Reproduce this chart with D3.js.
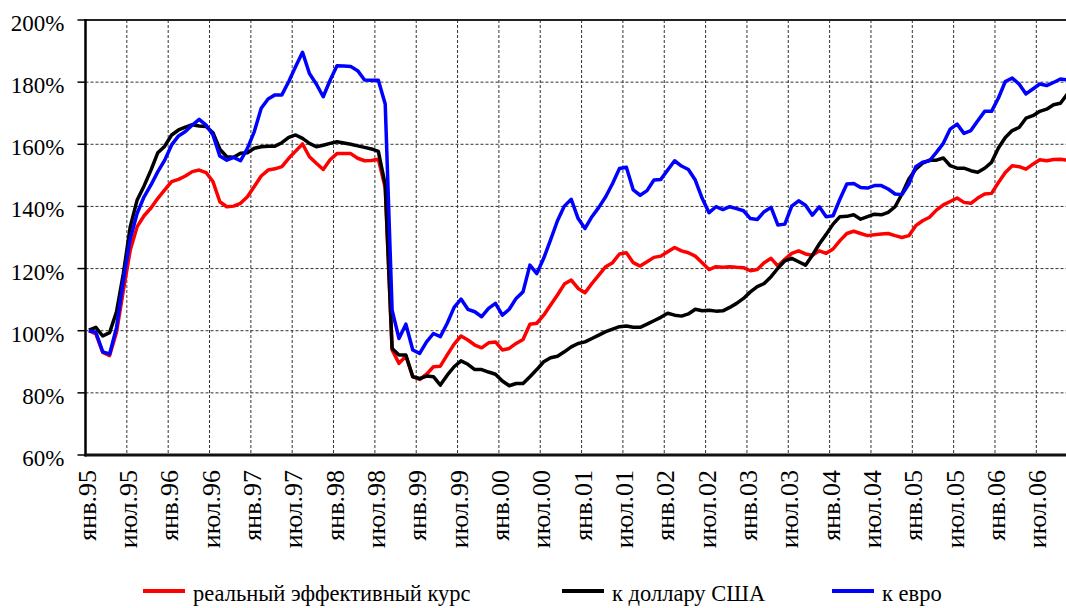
<html><head><meta charset="utf-8"></head><body style="margin:0">
<script src="https://d3js.org/d3.v7.min.js"></script>
<script>
    // tick labels, one every 6 months starting Jan 1995
    var tickLabels = ["янв.95", "июл.95", "янв.96", "июл.96", "янв.97", "июл.97",
        "янв.98", "июл.98", "янв.99", "июл.99", "янв.00", "июл.00",
        "янв.01", "июл.01", "янв.02", "июл.02", "янв.03", "июл.03",
        "янв.04", "июл.04", "янв.05", "июл.05", "янв.06", "июл.06"];

    var yTicks = [60, 80, 100, 120, 140, 160, 180, 200];

    // monthly values, % of Jan 1995
    var realRate = [
        100, 99, 93, 92, 99.5, 113, 126, 133.5, 137, 139.5, 142.6, 145.3,
        148, 148.7, 149.8, 151.2, 151.7, 150.9, 148, 141.5, 139.9, 140.1, 141, 143.1,
        146.4, 149.8, 151.7, 152.1, 152.8, 155.5, 157.8, 160.1, 156, 153.9, 151.9, 155,
        157, 157, 157, 155.5, 154.7, 154.8, 155.2, 146, 93.8, 89.5, 91.8, 85.2,
        84.3, 86, 88.4, 88.6, 92.2, 95.7, 98.3, 97, 95.4, 94.5, 96.1, 96.4,
        93.8, 94.3, 95.9, 97.2, 102.1, 102.4, 105, 108.3, 111.5, 115, 116.3, 113.6,
        112.2, 115.2, 117.9, 120.6, 121.9, 124.7, 125.1, 121.9, 120.8, 122.2, 123.6, 124,
        125.4, 126.8, 125.7, 125.1, 124, 121.9, 119.7, 120.6, 120.4, 120.6, 120.4, 120.3,
        119.3, 119.7, 121.9, 123.3, 120.8, 123, 124.9, 125.7, 124.7, 124.3, 125.7, 124.9,
        126.3, 129, 131.3, 132, 131.3, 130.6, 130.9, 131.1, 131.3, 130.6, 130, 130.6,
        133.8, 135.4, 136.5, 138.8, 140.5, 141.6, 142.7, 141.3, 141, 142.7, 144, 144.2,
        147.7, 150.9, 153.1, 152.8, 152, 153.6, 155, 154.7, 155.1, 155.2, 154.9
    ];

    var usdRate = [
        100.2, 101.1, 98.3, 99.4, 106.1, 118.5, 133.5, 142.1, 146.6, 151.7, 157.3, 159.4,
        163, 164.6, 165.5, 166.3, 165.9, 165.7, 163.7, 158.4, 156, 155.8, 157.1, 157.3,
        158.7, 159.2, 159.4, 159.4, 160.5, 162.2, 163, 161.9, 160.3, 159.2, 159.7, 160.3,
        160.8, 160.4, 160, 159.5, 159, 158.5, 157.7, 147, 94.3, 92.2, 92.2, 85.2,
        84.6, 85.4, 85.2, 82.5, 85.7, 88.4, 90.3, 89.2, 87.5, 87.5, 86.7, 86,
        83.8, 82.3, 83, 83, 85.2, 87.5, 90, 91.3, 91.8, 93.2, 94.8, 95.9,
        96.4, 97.5, 98.6, 99.7, 100.5, 101.3, 101.5, 101.1, 101.1, 102.1, 103.2, 104.3,
        105.6, 105, 104.7, 105.4, 106.9, 106.4, 106.6, 106.3, 106.4, 107.5, 108.8, 110.4,
        112.5, 114.2, 115.2, 117.4, 120.1, 122.5, 123.3, 122.2, 121.1, 124.3, 127.9, 131,
        134.3, 136.7, 136.8, 137.3, 135.9, 136.7, 137.5, 137.3, 138.1, 139.9, 144, 148.8,
        152, 153.9, 154.9, 154.9, 155.6, 153.1, 152.3, 152.3, 151.5, 151, 152.3, 154.2,
        158.8, 162.2, 164.4, 165.4, 168.4, 169.2, 170.6, 171.3, 172.7, 173.2, 176.2
    ];

    var eurRate = [
        100, 99.5, 93.2, 92.5, 101, 116.3, 129.7, 137.8, 143.1, 146.9, 151.2, 154.9,
        159.8, 162.7, 164.1, 166.2, 168, 166.2, 163, 156.2, 154.9, 155.8, 154.7, 158.7,
        164.1, 171.6, 174.6, 175.9, 175.9, 180.2, 185, 189.6, 182.8, 179.4, 175.3, 180.6,
        185.3, 185.2, 185, 183.7, 180.7, 180.6, 180.6, 173, 106.6, 97.5, 102.1, 93.8,
        92.7, 96.4, 99.1, 98.1, 102.4, 107.5, 110.2, 106.9, 106.1, 104.5, 107.2, 108.8,
        105, 106.9, 110.4, 112.5, 121.1, 118.4, 123.3, 129.2, 135.4, 140.1, 142.3, 136.1,
        132.9, 136.7, 139.7, 143.1, 147.4, 152.2, 152.6, 145.3, 143.6, 145.1, 148.5, 148.7,
        151.7, 154.7, 153, 151.9, 148.5, 142.6, 138, 139.9, 139, 139.9, 139.3, 138.6,
        136.1, 135.8, 138.3, 139.7, 134, 134.3, 140.1, 141.8, 140.4, 137.2, 139.9, 136.7,
        137, 142.4, 147.2, 147.4, 146.1, 145.9, 146.7, 146.7, 145.6, 144, 143.8, 147.2,
        152.8, 154.2, 154.7, 157.4, 160.3, 164.9, 166.5, 163.5, 164.4, 167.6, 170.6, 170.6,
        174.9, 180.2, 181.3, 179.4, 176.2, 177.8, 179.4, 178.9, 179.9, 181, 180.7
    ];

    var seriesNames = ["реальный эффективный курс", "к доллару США", "к евро"];
    var seriesColors = ["#ff0000", "#000000", "#0000ff"];

    // drawing vars
    var width = 1066;
    var height = 608;
    var plotLeft = 85.5;
    var plotTop = 20;
    var plotBottom = 455;
    var monthStep = 6.89;
    var numMonths = 144;

    var svg = d3.select("body").append("svg").attr("width", width).attr("height", height);

    var xScale = d3.scaleLinear()
        .domain([0, numMonths])
        .range([plotLeft, plotLeft + monthStep * numMonths]);

    var yScale = d3.scaleLinear()
        .domain([60, 200])
        .range([plotBottom, plotTop]);

    // dashed grid
    svg.selectAll(".hgrid")
        .data(yTicks.filter(function(d) { return d > 60 && d < 200; }))
        .enter().append("line")
        .attr("class", "hgrid")
        .attr("x1", plotLeft).attr("x2", width)
        .attr("y1", function(d) { return yScale(d); })
        .attr("y2", function(d) { return yScale(d); })
        .attr("stroke", "#333").attr("stroke-width", 1).attr("stroke-dasharray", "3,2");

    svg.selectAll(".vgrid")
        .data(tickLabels.slice(1))
        .enter().append("line")
        .attr("class", "vgrid")
        .attr("x1", function(d, i) { return xScale((i + 1) * 6); })
        .attr("x2", function(d, i) { return xScale((i + 1) * 6); })
        .attr("y1", plotTop).attr("y2", plotBottom)
        .attr("stroke", "#333").attr("stroke-width", 1).attr("stroke-dasharray", "3,2");

    // series, points at the middle of each month
    var line = d3.line()
        .x(function(d, i) { return xScale(i + 0.5); })
        .y(function(d) { return yScale(d); });

    svg.selectAll(".series")
        .data([realRate, usdRate, eurRate])
        .enter().append("path")
        .attr("class", "series")
        .attr("d", line)
        .attr("fill", "none")
        .attr("stroke", function(d, i) { return seriesColors[i]; })
        .attr("stroke-width", 3.5)
        .attr("stroke-linejoin", "round");

    // plot frame: top, left, bottom
    svg.append("line")
        .attr("x1", plotLeft).attr("x2", width)
        .attr("y1", plotTop).attr("y2", plotTop)
        .attr("stroke", "#222").attr("stroke-width", 2);
    svg.append("line")
        .attr("x1", plotLeft).attr("x2", plotLeft)
        .attr("y1", plotTop - 1).attr("y2", plotBottom + 1.5)
        .attr("stroke", "black").attr("stroke-width", 2.5);
    svg.append("line")
        .attr("x1", plotLeft - 1).attr("x2", width)
        .attr("y1", plotBottom).attr("y2", plotBottom)
        .attr("stroke", "#111").attr("stroke-width", 3);

    // y ticks and labels
    svg.selectAll(".ytick")
        .data(yTicks)
        .enter().append("line")
        .attr("class", "ytick")
        .attr("x1", plotLeft - 8).attr("x2", plotLeft)
        .attr("y1", function(d) { return yScale(d); })
        .attr("y2", function(d) { return yScale(d); })
        .attr("stroke", "black").attr("stroke-width", 1.5);

    svg.selectAll(".ylabel")
        .data(yTicks)
        .enter().append("text")
        .attr("class", "ylabel")
        .attr("x", plotLeft - 21)
        .attr("y", function(d) { return yScale(d) + 11; })
        .attr("text-anchor", "end")
        .attr("font-size", 23)
        .style("font-family", "'Liberation Serif'")
        .text(function(d) { return d + "%"; });

    // rotated month labels
    svg.selectAll(".xlabel")
        .data(tickLabels)
        .enter().append("text")
        .attr("class", "xlabel")
        .attr("transform", function(d, i) {
            return "translate(" + (xScale(i * 6) + 10) + ",470) rotate(-90)";
        })
        .attr("text-anchor", "end")
        .attr("font-size", 26)
        .style("font-family", "'Liberation Serif'")
        .text(function(d) { return d; });

    // legend
    var legendX = [143, 562, 832];
    var legendY = 591;

    svg.selectAll(".legendLine")
        .data(seriesNames)
        .enter().append("line")
        .attr("class", "legendLine")
        .attr("x1", function(d, i) { return legendX[i]; })
        .attr("x2", function(d, i) { return legendX[i] + 42; })
        .attr("y1", legendY).attr("y2", legendY)
        .attr("stroke", function(d, i) { return seriesColors[i]; })
        .attr("stroke-width", 4);

    svg.selectAll(".legendText")
        .data(seriesNames)
        .enter().append("text")
        .attr("class", "legendText")
        .attr("x", function(d, i) { return legendX[i] + 50; })
        .attr("y", legendY + 10)
        .attr("font-size", 22.5)
        .style("font-family", "'Liberation Serif'")
        .text(function(d) { return d; });
</script></body></html>
